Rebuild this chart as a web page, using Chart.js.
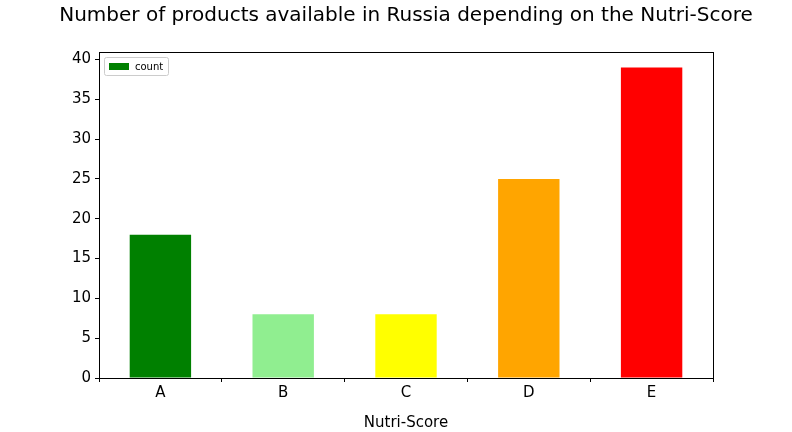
<!DOCTYPE html>
<html>
<head>
<meta charset="utf-8">
<script src="https://cdn.jsdelivr.net/npm/chart.js@4"></script>
<style>
  html, body { margin: 0; padding: 0; background: #fff; }
  #wrap { width: 792px; height: 432px; }
</style>
</head>
<body>
<div id="wrap"><canvas id="chart" width="792" height="432"></canvas></div>
<script>
// Données
const categories = ['A', 'B', 'C', 'D', 'E'];
const counts = [18, 8, 8, 25, 39];
const barColors = ['green', 'lightgreen', 'yellow', 'orange', 'red'];
const yTicks = [0, 5, 10, 15, 20, 25, 30, 35, 40];

const FONT = '"DejaVu Sans", sans-serif';

// Titre, cadre et légende dessinés à la main
const decor = {
    id: 'decor',
    afterDraw(chart) {
        const ctx = chart.ctx;
        const a = chart.chartArea;
        ctx.save();
        ctx.fillStyle = '#000';
        ctx.font = '20px ' + FONT;
        ctx.textAlign = 'center';
        ctx.textBaseline = 'middle';
        ctx.fillText('Number of products available in Russia depending on the Nutri-Score', 406, 16);

        ctx.strokeStyle = '#000';
        ctx.lineWidth = 1;
        ctx.strokeRect(a.left + 0.5, a.top + 0.5, a.right - a.left, a.bottom - a.top);

        // légende
        const lx = a.left + 5, ly = a.top + 5;
        ctx.strokeStyle = '#ccc';
        ctx.fillStyle = '#fff';
        ctx.beginPath();
        ctx.roundRect(lx + 0.5, ly + 0.5, 64, 18, 2);
        ctx.fill();
        ctx.stroke();
        ctx.fillStyle = 'green';
        ctx.fillRect(lx + 5, ly + 6, 20, 7);
        ctx.fillStyle = '#000';
        ctx.font = '10px ' + FONT;
        ctx.textAlign = 'left';
        ctx.fillText('count', lx + 31, ly + 10);
        ctx.restore();
    }
};

new Chart(document.getElementById('chart'), {
    type: 'bar',
    data: {
        labels: categories,
        datasets: [{
            label: 'count',
            data: counts,
            backgroundColor: barColors,
            barPercentage: 0.5,
            categoryPercentage: 1.0
        }]
    },
    options: {
        responsive: false,
        animation: false,
        layout: { padding: { top: 52, right: 79, left: 0, bottom: 0 } },
        plugins: { legend: { display: false }, title: { display: false }, tooltip: { enabled: false } },
        scales: {
            x: {
                afterFit: s => { s.height = 54; },
                grid: { drawOnChartArea: false, drawTicks: true, tickLength: 4, color: '#000' },
                border: { display: false },
                ticks: { color: '#000', font: { family: FONT, size: 15 }, padding: 2 },
                title: { display: true, text: 'Nutri-Score', color: '#000', font: { family: FONT, size: 15 }, padding: 0 }
            },
            y: {
                min: 0,
                max: 40.95,
                afterFit: s => { s.width = 99; },
                afterBuildTicks: s => { s.ticks = yTicks.map(v => ({ value: v })); },
                grid: { drawOnChartArea: false, drawTicks: true, tickLength: 4, color: '#000' },
                border: { display: false },
                ticks: { color: '#000', font: { family: FONT, size: 15 }, padding: 4 }
            }
        }
    },
    plugins: [decor]
});
</script>
</body>
</html>
